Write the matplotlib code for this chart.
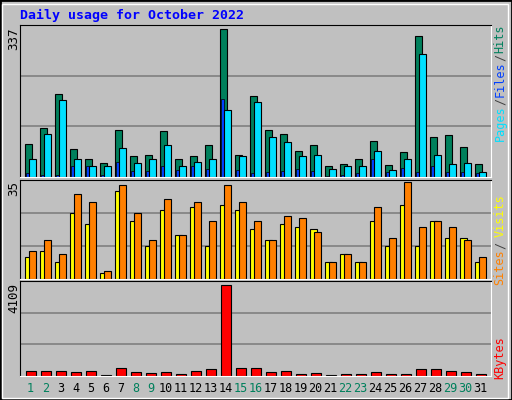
import matplotlib.pyplot as plt
from matplotlib.patches import Rectangle
import numpy as np

days = list(range(1, 32))
weekend = [1, 2, 8, 9, 15, 16, 22, 23, 29, 30]
hits = [76, 111, 188, 63, 40, 33, 108, 47, 49, 104, 40, 47, 72, 337, 51, 184,
        108, 99, 60, 72, 26, 30, 42, 81, 28, 56, 321, 92, 95, 69, 30]
files = [40, 99, 175, 40, 26, 24, 65, 33, 40, 72, 26, 35, 40, 152, 47, 170,
         92, 79, 47, 49, 19, 26, 24, 60, 17, 42, 280, 51, 30, 33, 12]
pages = [9, 5, 5, 26, 24, 5, 35, 14, 14, 26, 17, 24, 19, 177, 17, 9,
         12, 14, 19, 14, 2, 5, 8, 42, 12, 21, 12, 26, 12, 12, 10]
sites = [8, 10, 6, 24, 20, 2, 32, 21, 12, 25, 16, 26, 12, 27, 25, 18,
         14, 20, 19, 18, 6, 9, 6, 21, 12, 27, 12, 21, 15, 15, 6]
visits = [10, 14, 9, 31, 28, 3, 34, 24, 14, 29, 16, 28, 21, 34, 28, 21,
          14, 23, 22, 17, 6, 9, 6, 26, 15, 35, 19, 21, 19, 14, 8]
kbytes = [240, 240, 240, 195, 240, 60, 375, 195, 150, 195, 105, 240, 330, 4109, 375, 375,
          195, 240, 105, 150, 60, 105, 105, 195, 105, 105, 330, 330, 240, 195, 105]

W, H = 512, 400
bg = '#C0C0C0'
fig = plt.figure(figsize=(W / 100, H / 100), dpi=100, facecolor=bg)

def px_axes(x0, y0, x1, y1):
    return fig.add_axes([x0 / W, 1 - y1 / H, (x1 - x0) / W, (y1 - y0) / H])

# outer 3D border
fig.patches.append(Rectangle((0, 0), 1, 1, transform=fig.transFigure, fill=False,
                             edgecolor='black', lw=2))
fig.patches.append(Rectangle((2 / W, 2 / H), 1 - 6 / W, 1 - 6 / H, transform=fig.transFigure,
                             fill=False, edgecolor='white', lw=1))

x = np.array(days) - 1
mono = 'DejaVu Sans Mono'

def setup(ax, top, frac=0.974):
    ax.set_facecolor(bg)
    ax.set_xlim(0, 471 / 15)
    ylim = top / frac
    ax.set_ylim(0, ylim)
    for f in (1 / 3, 2 / 3):
        ax.axhline(ylim * f, color='#808080', lw=1.2, zorder=0)
    ax.set_xticks([])
    ax.set_yticks([])
    for s in ('left', 'top'):
        ax.spines[s].set_color('black')
    for s in ('right', 'bottom'):
        ax.spines[s].set_color('white')

ax1 = px_axes(20, 25, 491, 177)
setup(ax1, max(hits))
ax1.bar(x + 0.333, hits, width=0.47, align='edge', color='#00805C', edgecolor='black', lw=0.8)
ax1.bar(x + 0.43, pages, width=0.15, align='edge', color='#0040FF', edgecolor='black', lw=0.5)
ax1.bar(x + 0.6, files, width=0.47, align='edge', color='#00E0FF', edgecolor='black', lw=0.8)

ax2 = px_axes(20, 180, 491, 279)
setup(ax2, max(visits), 0.975)
ax2.bar(x + 0.333, sites, width=0.47, align='edge', color='#FFFF00', edgecolor='black', lw=0.8)
ax2.bar(x + 0.6, visits, width=0.47, align='edge', color='#FF8000', edgecolor='black', lw=0.8)

ax3 = px_axes(20, 281, 491, 376)
setup(ax3, max(kbytes), 0.955)
ax3.bar(x + 0.4, kbytes, width=0.67, align='edge', color='#FF0000', edgecolor='black', lw=0.8)

# day labels
for d in days:
    xp = (20 + 15 * (d - 1) + 10.5) / W
    fig.text(xp, 1 - 389 / H, str(d), ha='center', va='center', fontsize=8.5, family=mono,
             color='#00805C' if d in weekend else 'black')

fig.text(20 / W, 1 - 15 / H, 'Daily usage for October 2022', ha='left', va='center',
         fontsize=9.5, family=mono, weight='bold', color='#0000FF')

def ftext(xp, yp, s, color, va='center', size=8.5):
    fig.text(xp / W, 1 - yp / H, s, rotation=90, ha='center', va=va, fontsize=size,
             family=mono, color=color)

# left max labels
ftext(14, 28, str(max(hits)), 'black', va='top', size=9)
ftext(14, 181, str(max(visits)), 'black', va='top', size=9)
ftext(14, 283, str(max(kbytes)), 'black', va='top', size=9)

# right legends
ftext(500, 39, 'Hits', '#00805C')
ftext(500, 57, '/', '#404040')
ftext(500, 79, 'Files', '#0040FF')
ftext(500, 101, '/', '#404040')
ftext(500, 123, 'Pages', '#00E0FF')
ftext(500, 216, 'Visits', '#FFFF00')
ftext(500, 245, '/', '#404040')
ftext(500, 267, 'Sites', '#FF8000')
ftext(500, 358, 'KBytes', '#FF0000')

fig.savefig('out.png', dpi=100, facecolor=bg)
